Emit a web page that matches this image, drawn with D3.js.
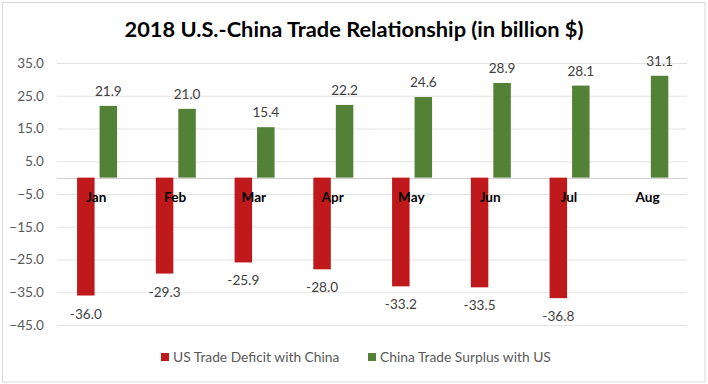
<!DOCTYPE html>
<html>
<head>
<meta charset="utf-8">
<script src="https://cdn.jsdelivr.net/npm/d3@7"></script>
<style>
  html, body { margin: 0; padding: 0; background: #fff; }
  svg { display: block; font-family: Lato, "Open Sans", sans-serif; }
</style>
</head>
<body>
<svg id="chart" width="708" height="384"></svg>
<script>
const categories = ["Jan", "Feb", "Mar", "Apr", "May", "Jun", "Jul", "Aug"];
const deficit = [-36.0, -29.3, -25.9, -28.0, -33.2, -33.5, -36.8, null];
const surplus = [21.9, 21.0, 15.4, 22.2, 24.6, 28.9, 28.1, 31.1];
const yTicks = [35, 25, 15, 5, -5, -15, -25, -35, -45];
const seriesNames = ["US Trade Deficit with China", "China Trade Surplus with US"];
const colors = ["#c0191c", "#538135"];

const svg = d3.select("#chart");

// chart border
svg.append("rect").attr("x", 2.5).attr("y", 2.5).attr("width", 702.5).attr("height", 379.5)
  .attr("fill", "#fff").attr("stroke", "#d9d9d9").attr("stroke-width", 1);

// title
svg.append("text").attr("x", 354).attr("y", 37).attr("text-anchor", "middle")
  .attr("font-size", 21.8).attr("font-weight", "bold").attr("fill", "#000")
  .text("2018 U.S.-China Trade Relationship (in billion $)");

const plotLeft = 57, plotRight = 687;
const x = d3.scaleBand().domain(categories).range([plotLeft, plotRight]);
const y = d3.scaleLinear().domain([-45, 35]).range([325, 63]);

// gridlines
const yAxis = d3.axisLeft(y).tickValues(yTicks).tickSize(-(plotRight - plotLeft)).tickPadding(13)
  .tickFormat(d3.format(".1f"));
const gy = svg.append("g").attr("transform", `translate(${plotLeft},0)`).call(yAxis);
gy.select(".domain").remove();
gy.selectAll(".tick line").attr("stroke", "#e3e3e3").attr("stroke-width", 1);
gy.selectAll(".tick text").attr("fill", "#595959").attr("font-size", 13.6).attr("font-family", "Lato, sans-serif");

// zero line
svg.append("line").attr("x1", plotLeft).attr("x2", plotRight)
  .attr("y1", Math.round(y(0)) + 0.5).attr("y2", Math.round(y(0)) + 0.5)
  .attr("stroke", "#d0d0d0").attr("stroke-width", 1);

const bw = 17.5;
const step = x.bandwidth();
const offRed = step / 2 - 19.3;
const offGreen = step / 2 + 3.2;

const redData = categories.map((c, i) => ({c, v: deficit[i]})).filter(d => d.v !== null);
const greenData = categories.map((c, i) => ({c, v: surplus[i]}));

svg.append("g").selectAll("rect").data(redData).join("rect")
  .attr("x", d => x(d.c) + offRed).attr("width", bw)
  .attr("y", y(0)).attr("height", d => y(d.v) - y(0))
  .attr("fill", colors[0]);

svg.append("g").selectAll("rect").data(greenData).join("rect")
  .attr("x", d => x(d.c) + offGreen).attr("width", bw)
  .attr("y", d => y(d.v)).attr("height", d => y(0) - y(d.v))
  .attr("fill", colors[1]);

// data labels
svg.append("g").selectAll("text").data(redData).join("text")
  .attr("x", d => x(d.c) + offRed + bw / 2).attr("y", d => y(d.v) + 23)
  .attr("text-anchor", "middle").attr("font-size", 13.6).attr("fill", "#404040")
  .text(d => d.v.toFixed(1));

svg.append("g").selectAll("text").data(greenData).join("text")
  .attr("x", d => x(d.c) + offGreen + bw / 2).attr("y", d => y(d.v) - 10)
  .attr("text-anchor", "middle").attr("font-size", 13.6).attr("fill", "#404040")
  .text(d => d.v.toFixed(1));

// category labels
svg.append("g").selectAll("text").data(categories).join("text")
  .attr("x", d => x(d) + step / 2).attr("y", y(0) + 24)
  .attr("text-anchor", "middle").attr("font-size", 13.6).attr("font-weight", "bold").attr("fill", "#000")
  .text(d => d);

// legend
const legend = [{x: 161, name: seriesNames[0], color: colors[0]}, {x: 368, name: seriesNames[1], color: colors[1]}];
const lg = svg.append("g").selectAll("g").data(legend).join("g");
lg.append("rect").attr("x", d => d.x).attr("y", 353).attr("width", 8).attr("height", 8).attr("fill", d => d.color);
lg.append("text").attr("x", d => d.x + 12).attr("y", 362).attr("font-size", 13.8).attr("fill", "#595959")
  .text(d => d.name);
</script>
</body>
</html>
